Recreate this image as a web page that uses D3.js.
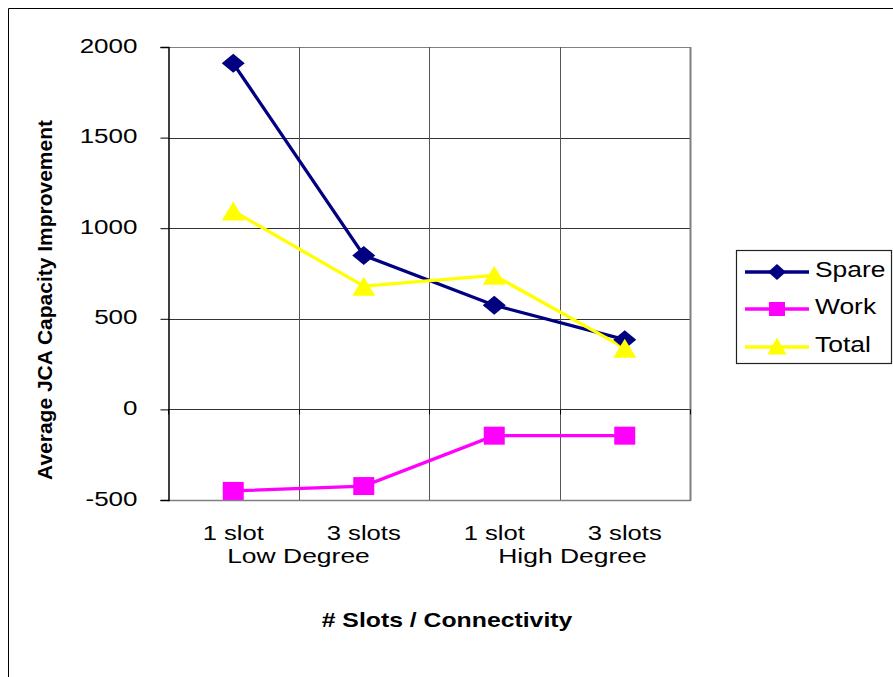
<!DOCTYPE html>
<html>
<head>
<meta charset="utf-8">
<script src="https://cdn.jsdelivr.net/npm/d3@7"></script>
<style>
  html, body { margin: 0; padding: 0; background: #fff; }
  svg { display: block; font-family: Arial, "Liberation Sans", sans-serif; }
</style>
</head>
<body>
<svg id="chart" width="893" height="677"></svg>
<script>
// Categories (slot count within connectivity degree)
const categories = ["1 slot", "3 slots", "1 slot ", "3 slots "];
const groupLabels = ["Low Degree", "High Degree"];
const yTicks = [-500, 0, 500, 1000, 1500, 2000];

// Series values
const spare = [1910, 850, 575, 385];
const work = [-450, -423, -145, -145];
const total = [1095, 680, 740, 338];

const seriesNames = ["Spare", "Work", "Total"];
const seriesColors = ["#000080", "#FF00FF", "#FFFF00"];
const seriesData = [spare, work, total];

// Marker shapes drawn as custom d3 symbol types (w × h boxes)
const diamond = (w, h) => ({ draw(ctx) {
  ctx.moveTo(0, -h / 2); ctx.lineTo(w / 2, 0); ctx.lineTo(0, h / 2); ctx.lineTo(-w / 2, 0); ctx.closePath();
}});
const rectShape = (w, h) => ({ draw(ctx) {
  ctx.rect(-w / 2, -h / 2, w, h);
}});
const triangle = (w, h) => ({ draw(ctx) {
  ctx.moveTo(0, -h / 2); ctx.lineTo(w / 2, h / 2); ctx.lineTo(-w / 2, h / 2); ctx.closePath();
}});
const plotShapes = [diamond(23, 19), rectShape(21, 18), triangle(23, 19)];
const legendShapes = [diamond(18, 16), rectShape(16, 14), triangle(19, 17)];

const svg = d3.select("#chart");
const plotL = 168, plotR = 690, plotT = 47, plotB = 500;

const x = d3.scaleBand().domain(categories).range([plotL, plotR]).padding(0);
const y = d3.scaleLinear().domain([-500, 2000]).range([plotB, plotT]);
const cx = c => x(c) + x.bandwidth() / 2;

// widen text horizontally by factor k
function stretch(sel, k) {
  sel.each(function () {
    const w = this.getComputedTextLength();
    d3.select(this).attr("textLength", w * k).attr("lengthAdjust", "spacingAndGlyphs");
  });
}

// outer frame
svg.append("path").attr("d", "M8.5,677 V8.5 H893").attr("fill", "none")
  .attr("stroke", "#000").attr("stroke-width", 1);

// horizontal grid lines
svg.append("g").selectAll("line").data(yTicks).join("line")
  .attr("x1", plotL).attr("x2", plotR)
  .attr("y1", d => Math.round(y(d)) + 0.5).attr("y2", d => Math.round(y(d)) + 0.5)
  .attr("stroke", d => d === 2000 ? "#808080" : "#333").attr("stroke-width", 1);

// vertical grid lines at category boundaries
const bounds = categories.map(c => x(c)).concat([plotR]);
svg.append("g").selectAll("line").data(bounds.slice(1, -1)).join("line")
  .attr("x1", d => Math.round(d) + 0.5).attr("x2", d => Math.round(d) + 0.5)
  .attr("y1", plotT).attr("y2", plotB)
  .attr("stroke", "#555").attr("stroke-width", 1);

// plot border (right and bottom sides grey)
svg.append("line").attr("x1", plotR + 0.5).attr("x2", plotR + 0.5)
  .attr("y1", plotT).attr("y2", plotB + 1).attr("stroke", "#808080").attr("stroke-width", 2);
svg.append("line").attr("x1", plotL).attr("x2", plotR + 1)
  .attr("y1", plotB + 0.5).attr("y2", plotB + 0.5).attr("stroke", "#808080").attr("stroke-width", 1.5);

// y axis
const yAxis = svg.append("g").attr("transform", `translate(${plotL + 0.5},0)`)
  .call(d3.axisLeft(y).tickValues(yTicks).tickSize(8).tickPadding(23).tickFormat(d => String(d)));
yAxis.select(".domain").attr("stroke", "#000").attr("stroke-width", 1.5);
yAxis.selectAll(".tick line").attr("stroke", "#000");
yAxis.selectAll(".tick text").attr("font-size", 20).attr("fill", "#000").attr("dy", "0.25em")
  .attr("font-family", "Arial, 'Liberation Sans', sans-serif");
stretch(yAxis.selectAll(".tick text"), 1.3);

// x axis ticks on the zero line
svg.append("g").selectAll("line").data(bounds).join("line")
  .attr("x1", d => Math.round(d) + 0.5).attr("x2", d => Math.round(d) + 0.5)
  .attr("y1", y(0)).attr("y2", y(0) + 5).attr("stroke", "#000").attr("stroke-width", 1);

// category labels
const catText = svg.append("g").selectAll("text").data(categories).join("text")
  .attr("x", d => cx(d)).attr("y", 540)
  .attr("text-anchor", "middle").attr("font-size", 20).attr("fill", "#000")
  .text(d => d.trim());
stretch(catText, 1.28);

// group labels
const groupX = [x(categories[1]), x(categories[3]) + 13];
const grpText = svg.append("g").selectAll("text").data(groupLabels).join("text")
  .attr("x", (d, i) => groupX[i]).attr("y", 563)
  .attr("text-anchor", "middle").attr("font-size", 21).attr("fill", "#000")
  .text(d => d);
stretch(grpText, 1.26);

// axis titles
const xTitle = svg.append("text").attr("x", 447).attr("y", 627)
  .attr("text-anchor", "middle").attr("font-size", 21).attr("font-weight", "bold")
  .text("# Slots / Connectivity");
stretch(xTitle, 1.18);
svg.append("text").attr("transform", "translate(52,300) rotate(-90)")
  .attr("text-anchor", "middle").attr("font-size", 20).attr("font-weight", "bold")
  .attr("textLength", 360).attr("lengthAdjust", "spacingAndGlyphs")
  .text("Average JCA Capacity Improvement");

// series lines and markers
const line = d3.line().x((d, i) => cx(categories[i])).y(d => y(d));
seriesData.forEach((vals, s) => {
  svg.append("path").datum(vals).attr("d", line).attr("fill", "none")
    .attr("stroke", seriesColors[s]).attr("stroke-width", 3.3);
});
seriesData.forEach((vals, s) => {
  svg.append("g").selectAll("path").data(vals).join("path")
    .attr("transform", (d, i) => `translate(${cx(categories[i])},${y(d)})`)
    .attr("d", d3.symbol().type(plotShapes[s]))
    .attr("fill", seriesColors[s]);
});

// legend
const lg = svg.append("g");
lg.append("rect").attr("x", 736.5).attr("y", 250.5).attr("width", 155).attr("height", 113)
  .attr("fill", "#fff").attr("stroke", "#222").attr("stroke-width", 1.2);
const legendY = [272, 309, 347];
const legendText = [];
seriesNames.forEach((name, s) => {
  lg.append("line").attr("x1", 745).attr("x2", 809).attr("y1", legendY[s]).attr("y2", legendY[s])
    .attr("stroke", seriesColors[s]).attr("stroke-width", 3.3);
  lg.append("path").attr("transform", `translate(777,${legendY[s] - (s === 2 ? 1 : 0)})`)
    .attr("d", d3.symbol().type(legendShapes[s]))
    .attr("fill", seriesColors[s]);
  legendText.push(lg.append("text").attr("x", 815).attr("y", legendY[s] + 5)
    .attr("font-size", 22).attr("fill", "#000").text(name).node());
});
stretch(d3.selectAll(legendText), 1.2);
</script>
</body>
</html>
